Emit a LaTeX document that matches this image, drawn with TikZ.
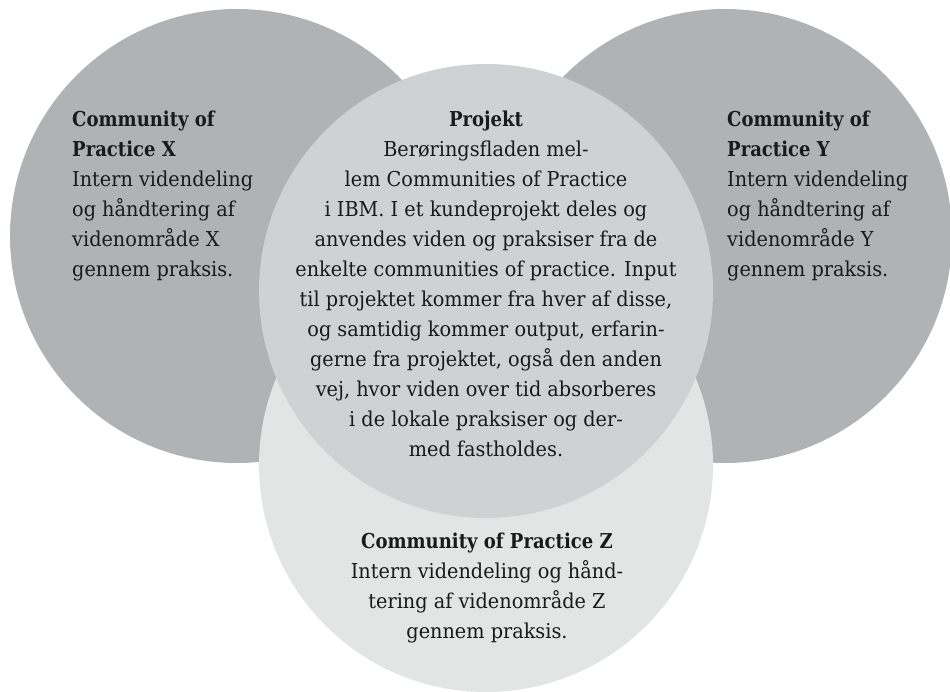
\documentclass[tikz,border=0pt]{standalone}
\usepackage{fontspec}
\setmainfont{DejaVu Serif}[FakeStretch=0.94, BoldFeatures={FakeStretch=0.88}]
\begin{document}
\begin{tikzpicture}[x=1pt,y=-1pt,
  disc/.style={circle, draw=none, inner sep=0pt, minimum size=454pt},
  outerdisc/.style={disc, fill=outergray},
  projdisc/.style={disc, fill=projgray},
  lowdisc/.style={disc, fill=lowgray},
  body/.style={inner sep=0pt, text=inkcol, font={\fontsize{20.5}{30}\selectfont}}
]
\definecolor{outergray}{RGB}{177,178,180}
\definecolor{projgray}{RGB}{208,209,211}
\definecolor{lowgray}{RGB}{227,228,228}
\definecolor{inkcol}{RGB}{26,26,26}
\useasboundingbox (0,0) rectangle (950,692);
\clip (0,0) rectangle (950,692);

% the four communities, back to front
\node[outerdisc] (cx) at (237,236) {};
\node[outerdisc] (cy) at (725,236) {};
\node[lowdisc]   (cz) at (486,465) {};
\node[projdisc]  (cp) at (486,291) {};

% texts
\node[body, anchor=north west, align=left] (tx) at (72,105)
  {\strut\textbf{Community of}\\ \textbf{Practice X}\\ Intern videndeling\\ og håndtering af\\ videnområde X\\ gennem praksis.};
\node[body, anchor=north west, align=left] (ty) at (727,105)
  {\strut\textbf{Community of}\\ \textbf{Practice Y}\\ Intern videndeling\\ og håndtering af\\ videnområde Y\\ gennem praksis.};
\node[body, anchor=north, align=center] (tp) at (486,105)
  {\strut\textbf{Projekt}\\ Berøringsfladen mel-\\ lem Communities of Practice\\ i IBM. I et kundeprojekt deles og\\ anvendes viden og praksiser fra de\\ enkelte communities of practice. Input\\ til projektet kommer fra hver af disse,\\ og samtidig kommer output, erfarin-\\ gerne fra projektet, også den anden\\ vej, hvor viden over tid absorberes\\ i de lokale praksiser og der-\\ med fastholdes.};
\node[body, anchor=north, align=center] (tz) at (487,527)
  {\strut\textbf{Community of Practice Z}\\ Intern videndeling og hånd-\\ tering af videnområde Z\\ gennem praksis.};
\end{tikzpicture}
\end{document}
